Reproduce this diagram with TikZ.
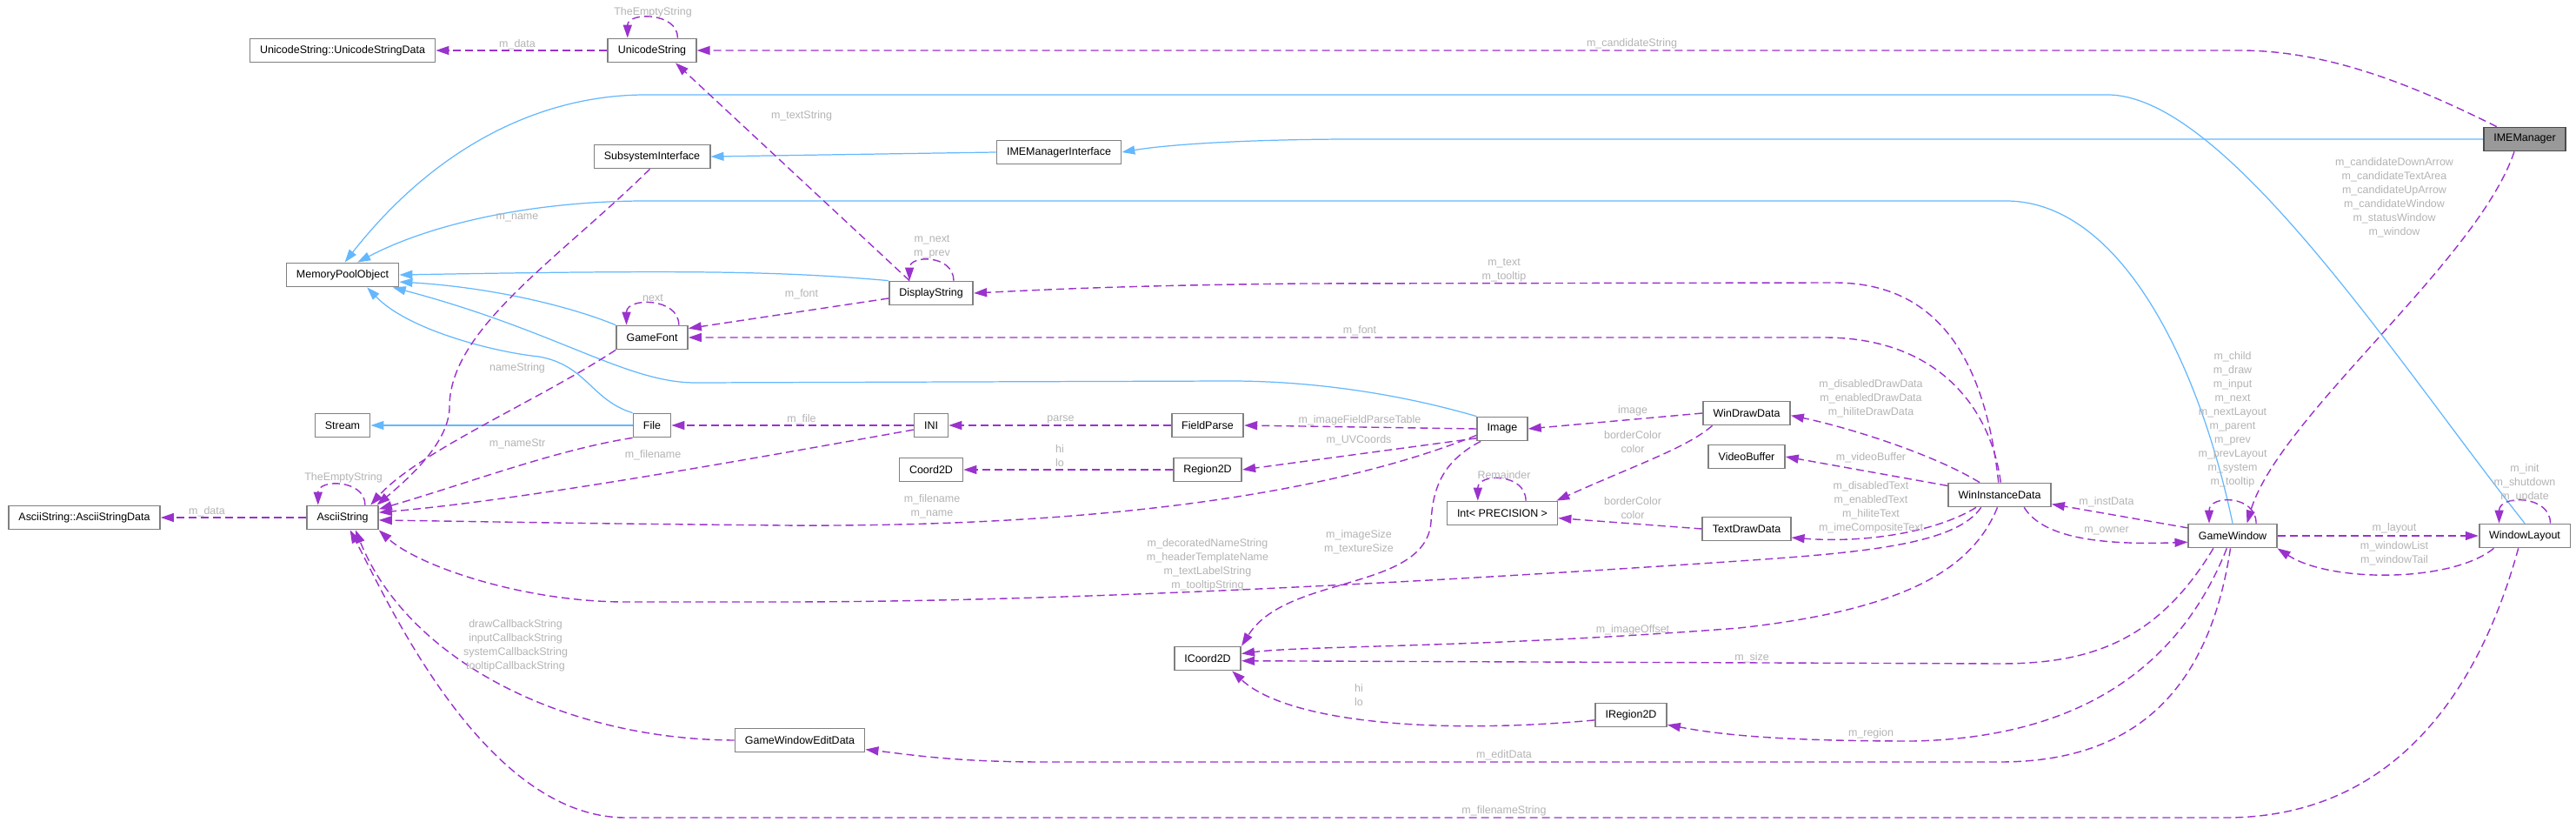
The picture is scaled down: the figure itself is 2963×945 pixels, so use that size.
\documentclass[tikz,border=0pt]{standalone}
\usepackage{fontspec}
\setmainfont{Liberation Sans}
\usetikzlibrary{arrows.meta}
\definecolor{inhblue}{HTML}{63B8FF}
\definecolor{usepurple}{HTML}{9A32CD}
\definecolor{lblgray}{HTML}{B4B4B4}
\definecolor{boxgray}{HTML}{808080}
\definecolor{imegray}{HTML}{999999}
\newcommand{\clsfont}{\fontsize{7.1}{8}\selectfont}
\newcommand{\lblfont}{\fontsize{7.1}{9.1}\selectfont}

\begin{document}
\begin{tikzpicture}[x=0.02cm,y=-0.02cm,
  cls/.style={draw=boxgray,line width=1pt,fill=white,font=\clsfont,minimum height=0.54cm,inner xsep=0.23cm,inner ysep=0},
  inh/.style={draw=inhblue,line width=0.7pt,-{Triangle[length=0.3cm,width=0.2cm]}},
  usage/.style={draw=usepurple,line width=0.8pt,dash pattern=on 0.18cm off 0.1cm,-{Triangle[length=0.3cm,width=0.2cm]}},
  lbl/.style={text=lblgray,font=\lblfont,align=center,inner sep=0}]
  \fill[white] (0,0) rectangle (2963,945);
  \useasboundingbox (0,0) rectangle (2963,945);

  \node[cls] (usd) at (394,58) {UnicodeString::UnicodeStringData};
  \node[cls] (us) at (750,58) {UnicodeString};
  \node[cls] (subsys) at (750,180) {SubsystemInterface};
  \node[cls] (mpo) at (394,316) {MemoryPoolObject};
  \node[cls] (gfont) at (750,388) {GameFont};
  \node[cls] (stream) at (394,489) {Stream};
  \node[cls] (file) at (750,489) {File};
  \node[cls] (asd) at (97,595) {AsciiString::AsciiStringData};
  \node[cls] (as) at (394,595) {AsciiString};
  \node[cls] (gwed) at (920,851) {GameWindowEditData};
  \node[cls] (imei) at (1218,175) {IMEManagerInterface};
  \node[cls] (dstr) at (1071,337) {DisplayString};
  \node[cls] (ini) at (1071,489) {INI};
  \node[cls] (fparse) at (1389,489) {FieldParse};
  \node[cls] (image) at (1728,493) {Image};
  \node[cls] (c2d) at (1071,540) {Coord2D};
  \node[cls] (r2d) at (1389,540) {Region2D};
  \node[cls] (intp) at (1728,590) {Int< PRECISION >};
  \node[cls] (ic2d) at (1389,757) {ICoord2D};
  \node[cls] (ir2d) at (1876,822) {IRegion2D};
  \node[cls] (wdd) at (2009,475) {WinDrawData};
  \node[cls] (vbuf) at (2009,525) {VideoBuffer};
  \node[cls] (tdd) at (2009,608) {TextDrawData};
  \node[cls] (wid) at (2300,569) {WinInstanceData};
  \node[cls] (gw) at (2568,616) {GameWindow};
  \node[cls] (wl) at (2904,616) {WindowLayout};
  \node[cls,fill=imegray,draw=gray!60!black] (ime) at (2904,160) {IMEManager};

  % inheritance
  \draw[inh] (wl.north) .. controls (2760,420) and (2560,109) .. (2424,109) -- (743,109) .. controls (620,109) and (500,170) .. (mpo.80);
  \draw[inh] (gw.north) .. controls (2530,420) and (2440,231) .. (2307,231) -- (743,231) .. controls (620,231) and (500,255) .. (mpo.40);
  \draw[inh] (dstr.north west) .. controls (900,312) and (800,310) .. (mpo.east);
  \draw[inh] (gfont.north west) .. controls (650,350) and (560,330) .. (mpo.-7);
  \draw[inh] (image.north west) .. controls (1600,450) and (1500,438) .. (1415,438) -- (800,440) .. controls (720,440) and (640,380) .. (mpo.-14);
  \draw[inh] (file.north west) .. controls (680,460) and (675,420) .. (620,410) .. controls (570,405) and (470,380) .. (mpo.-27);
  \draw[inh] (file.west) -- (stream.east);
  \draw[inh] (imei.west) -- (subsys.east);
  \draw[inh] (ime.west) -- (1560,160) .. controls (1450,160) and (1350,165) .. (imei.east);

  % usage
  \draw[usage] (us.west) -- (usd.east);
  \draw[usage] (us.26) .. controls +(0,-30) and +(0,-30) .. (us.153);
  \draw[usage] (ime.156) .. controls (2780,100) and (2680,58) .. (2577,58) -- (us.east);
  \draw[usage] (ime.-130) .. controls (2850,300) and (2620,480) .. (gw.41);
  \draw[usage] (subsys.-100) .. controls (640,300) and (515,380) .. (517,470) .. controls (515,510) and (470,550) .. (as.20);
  \draw[usage] (gfont.south west) .. controls (620,460) and (480,520) .. (as.24);
  \draw[usage] (file.south west) .. controls (640,517) and (540,555) .. (as.13);
  \draw[usage] (ini.-166) .. controls (850,530) and (600,575) .. (as.8);
  \draw[usage] (image.-166) .. controls (1500,580) and (1200,606) .. (900,604) .. controls (700,602) .. (as.-4);
  \draw[usage] (wid.-146) .. controls (2250,625) and (2150,635) .. (2000,645) .. controls (1600,672) and (1200,692) .. (900,692) -- (720,692) .. controls (600,692) and (480,650) .. (as.-19);
  \draw[usage] (gwed.west) .. controls (650,850) and (470,760) .. (as.-44);
  \draw[usage] (wl.-117) .. controls (2850,800) and (2750,940) .. (2560,940) -- (720,940) .. controls (560,940) and (450,700) .. (as.-59);
  \draw[usage] (as.west) -- (asd.east);
  \draw[usage] (as.29) .. controls +(0,-30) and +(0,-30) .. (as.153);
  \draw[usage] (dstr.150) -- (us.-28);
  \draw[usage] (dstr.29) .. controls +(0,-30) and +(0,-30) .. (dstr.150);
  \draw[usage] (wid.95) .. controls (2285,430) and (2240,325) .. (2110,325) -- (1500,326) .. controls (1300,328) and (1200,333) .. (dstr.east);
  \draw[usage] (wid.85) .. controls (2290,470) and (2230,388) .. (2098,388) -- (gfont.east);
  \draw[usage] (dstr.-173) -- (gfont.14);
  \draw[usage] (gfont.25) .. controls +(0,-32) and +(0,-32) .. (gfont.154);
  \draw[usage] (ini.west) -- (file.east);
  \draw[usage] (fparse.west) -- (ini.east);
  \draw[usage] (image.west) -- (fparse.east);
  \draw[usage] (r2d.west) -- (c2d.east);
  \draw[usage] (image.-160) -- (r2d.east);
  \draw[usage] (wdd.west) -- (image.east);
  \draw[usage] (wdd.-160) .. controls (1940,515) and (1880,535) .. (intp.13);
  \draw[usage] (intp.28) .. controls +(0,-32) and +(0,-32) .. (intp.153);
  \draw[usage] (tdd.west) -- (intp.-5);
  \draw[usage] (image.-150) .. controls (1660,530) and (1648,560) .. (1646,600) .. controls (1640,680) and (1480,660) .. (ic2d.north east);
  \draw[usage] (wid.148) .. controls (2220,520) and (2120,490) .. (wdd.-3);
  \draw[usage] (wid.170) -- (vbuf.east);
  \draw[usage] (wid.-152) .. controls (2230,610) and (2150,625) .. (tdd.-11);
  \draw[usage] (wid.-100) .. controls (2270,650) and (2200,700) .. (2000,722) .. controls (1700,745) and (1500,742) .. (ic2d.8);
  \draw[usage] (gw.-147) .. controls (2480,740) and (2400,763) .. (2300,763) -- (ic2d.-4);
  \draw[usage] (gw.-115) .. controls (2510,760) and (2400,848) .. (2200,852) .. controls (2050,852) and (1980,845) .. (ir2d.-15);
  \draw[usage] (ir2d.-172) .. controls (1650,845) and (1480,830) .. (ic2d.-27);
  \draw[usage] (gw.-100) .. controls (2540,800) and (2450,876) .. (2300,876) -- (1200,876) .. controls (1100,876) and (1050,868) .. (gwed.-8);
  \draw[usage] (gw.170) -- (wid.-10);
  \draw[usage] (wid.-27) .. controls (2345,610) and (2390,628) .. (gw.-172);
  \draw[usage] (gw.28) .. controls +(0,-33) and +(0,-33) .. (gw.152);
  \draw[usage] (gw.east) -- (wl.west);
  \draw[usage] (wl.-158) .. controls (2820,670) and (2680,670) .. (gw.south east);
  \draw[usage] (wl.26) .. controls +(0,-33) and +(0,-33) .. (wl.154);

  % labels
  \node[lbl] (l-usdata) at (595,51) {m\_data};
  \node[lbl] (l-usempty) at (751,14) {TheEmptyString};
  \node[lbl] (l-cand) at (1877,50) {m\_candidateString};
  \node[lbl] (l-imewin) at (2754,227) {m\_candidateDownArrow\\m\_candidateTextArea\\m\_candidateUpArrow\\m\_candidateWindow\\m\_statusWindow\\m\_window};
  \node[lbl] (l-textstr) at (922,133) {m\_textString};
  \node[lbl] (l-dsnext) at (1072,284) {m\_next\\m\_prev};
  \node[lbl] (l-text) at (1730,311) {m\_text\\m\_tooltip};
  \node[lbl] (l-dsfont) at (922,338) {m\_font};
  \node[lbl] (l-widfont) at (1564,380) {m\_font};
  \node[lbl] (l-gfnext) at (751,343) {next};
  \node[lbl] (l-name) at (595,250) {m\_name};
  \node[lbl] (l-namestring) at (595,423) {nameString};
  \node[lbl] (l-namestr) at (595,510) {m\_nameStr};
  \node[lbl] (l-inifile) at (751,523) {m\_filename};
  \node[lbl] (l-imgname) at (1072,582) {m\_filename\\m\_name};
  \node[lbl] (l-file) at (922,482) {m\_file};
  \node[lbl] (l-parse) at (1220,482) {parse};
  \node[lbl] (l-fpt) at (1564,483) {m\_imageFieldParseTable};
  \node[lbl] (l-c2d) at (1219,524) {hi\\lo};
  \node[lbl] (l-uv) at (1563,506) {m\_UVCoords};
  \node[lbl] (l-image) at (1878,472) {image};
  \node[lbl] (l-wddcol) at (1878,508) {borderColor\\color};
  \node[lbl] (l-rem) at (1730,546) {Remainder};
  \node[lbl] (l-tddcol) at (1878,584) {borderColor\\color};
  \node[lbl] (l-imgsize) at (1563,623) {m\_imageSize\\m\_textureSize};
  \node[lbl] (l-drawdata) at (2152,458) {m\_disabledDrawData\\m\_enabledDrawData\\m\_hiliteDrawData};
  \node[lbl] (l-vbuf) at (2152,526) {m\_videoBuffer};
  \node[lbl] (l-textdata) at (2152,583) {m\_disabledText\\m\_enabledText\\m\_hiliteText\\m\_imeCompositeText};
  \node[lbl] (l-offset) at (1878,724) {m\_imageOffset};
  \node[lbl] (l-size) at (2015,756) {m\_size};
  \node[lbl] (l-region) at (2152,843) {m\_region};
  \node[lbl] (l-ic2d) at (1563,799) {hi\\lo};
  \node[lbl] (l-edit) at (1730,868) {m\_editData};
  \node[lbl] (l-inst) at (2423,577) {m\_instData};
  \node[lbl] (l-owner) at (2423,610) {m\_owner};
  \node[lbl] (l-gwself) at (2568,482) {m\_child\\m\_draw\\m\_input\\m\_next\\m\_nextLayout\\m\_parent\\m\_prev\\m\_prevLayout\\m\_system\\m\_tooltip};
  \node[lbl] (l-layout) at (2754,607) {m\_layout};
  \node[lbl] (l-wlist) at (2754,636) {m\_windowList\\m\_windowTail};
  \node[lbl] (l-wlself) at (2904,555) {m\_init\\m\_shutdown\\m\_update};
  \node[lbl] (l-widstr) at (1389,649) {m\_decoratedNameString\\m\_headerTemplateName\\m\_textLabelString\\m\_tooltipString};
  \node[lbl] (l-callback) at (593,742) {drawCallbackString\\inputCallbackString\\systemCallbackString\\tooltipCallbackString};
  \node[lbl] (l-fname) at (1730,932) {m\_filenameString};
  \node[lbl] (l-asdata) at (238,588) {m\_data};
  \node[lbl] (l-asempty) at (395,549) {TheEmptyString};
\end{tikzpicture}
\end{document}
